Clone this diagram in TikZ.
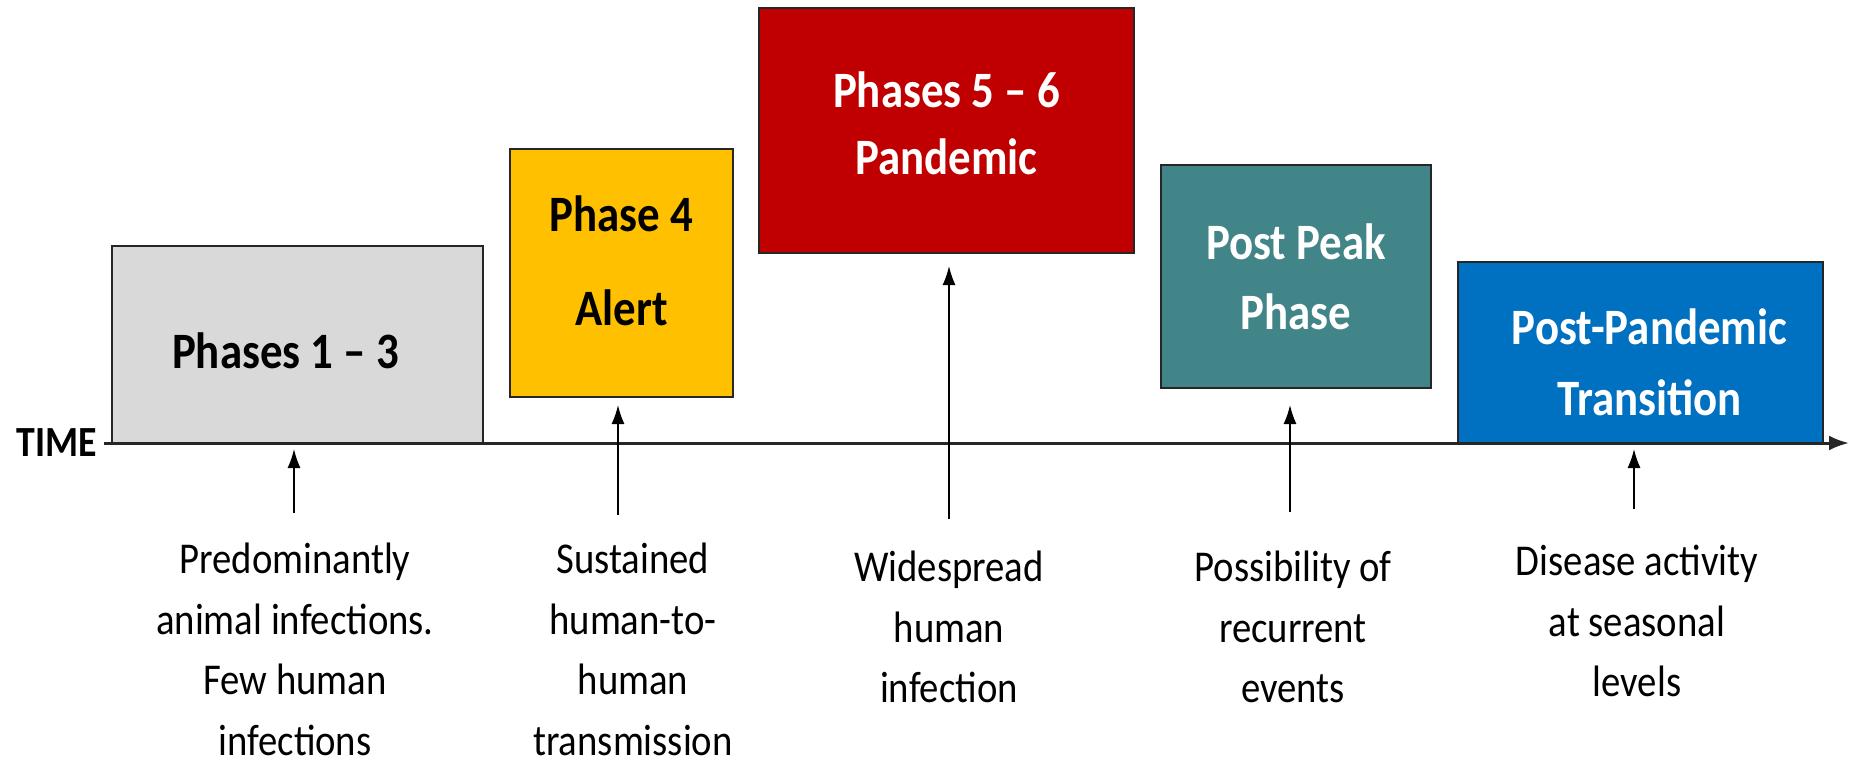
\documentclass[tikz,border=0pt]{standalone}
\usepackage{fontspec}
\setmainfont{Carlito}[FakeStretch=0.88]
\usetikzlibrary{arrows.meta}

\definecolor{greyphase}{HTML}{D9D9D9}
\definecolor{alertphase}{HTML}{FFC000}
\definecolor{pandphase}{HTML}{C00000}
\definecolor{peakphase}{HTML}{418588}
\definecolor{transphase}{HTML}{0070C0}
\definecolor{boxline}{HTML}{262626}

\begin{document}
\begin{tikzpicture}
        [x=1pt,y=-1pt,every node/.style={inner sep=0pt},
         phasebox/.style={draw=boxline,line width=2pt},
         phasetext/.style={align=center,font=\fontsize{51}{67}\selectfont\bfseries},
         note/.style={anchor=north,align=center,font=\fontsize{44}{60.5}\selectfont},
         pointer/.style={line width=1.6pt,-{Latex[length=19pt,width=13pt]}}]
        \useasboundingbox (0,0) rectangle (1849,764);
        %Phase boxes
        \node[phasebox,fill=greyphase,minimum width=371pt,minimum height=197pt,
              label={[phasetext,xshift=-12pt,yshift=-6pt]center:Phases 1 – 3}] (P13) at (297.5,344.5) {};
        \node[phasebox,fill=alertphase,minimum width=223pt,minimum height=248pt,
              label={[phasetext,yshift=12pt]center:{Phase 4\\[27pt]Alert}}] (P4) at (621.5,273) {};
        \node[phasebox,fill=pandphase,minimum width=375pt,minimum height=245pt,
              label={[phasetext,text=white,yshift=7pt]center:{Phases 5 – 6\\Pandemic}}] (P56) at (946.5,130.5) {};
        \node[phasebox,fill=peakphase,minimum width=270pt,minimum height=223pt,
              label={[phasetext,text=white]center:{Post Peak\\[3pt]Phase}}] (PPK) at (1296,276.5) {};
        \node[phasebox,fill=transphase,minimum width=365pt,minimum height=181pt,
              label={[phasetext,text=white,xshift=9pt,yshift=-10pt]center:{Post-Pandemic\\[4pt]Transition}}] (PPT) at (1640.5,352.5) {};

        %Time axis
        \coordinate (T0) at (104,443);
        \coordinate (T1) at (1849,443);
        \node[anchor=east,font=\fontsize{43}{50}\selectfont\bfseries] (TIME) at (97,443) {TIME};
        \draw[line width=3pt,draw=boxline,-{Latex[length=20pt,width=15pt]}] (T0) -- (T1);

        %Descriptions
        \node[note] (D13) at (295,543) {Predominantly\\animal infections.\\Few human\\infections};
        \node[note] (D4) at (633,543) {Sustained\\human-to-\\human\\transmission};
        \node[note] (D56) at (949,551) {Widespread\\human\\infection};
        \node[note] (DPK) at (1293,551) {Possibility of\\recurrent\\events};
        \node[note] (DPT) at (1637,545) {Disease activity\\at seasonal\\levels};

        \coordinate (S13) at (294,513);
        \coordinate (S4) at (618,515);
        \coordinate (S56) at (949,519);
        \coordinate (SPK) at (1290,512);
        \coordinate (SPT) at (1634,509);
        \path[every edge/.append style={pointer}]
        (S13)   edge[shorten >=5pt]     (S13 |- P13.south)
        (S4)    edge[shorten >=7pt]     (S4 |- P4.south)
        (S56)   edge[shorten >=12pt]    (S56 |- P56.south)
        (SPK)   edge[shorten >=16pt]    (SPK |- PPK.south)
        (SPT)   edge[shorten >=5pt]     (SPT |- PPT.south);
\end{tikzpicture}
\end{document}
